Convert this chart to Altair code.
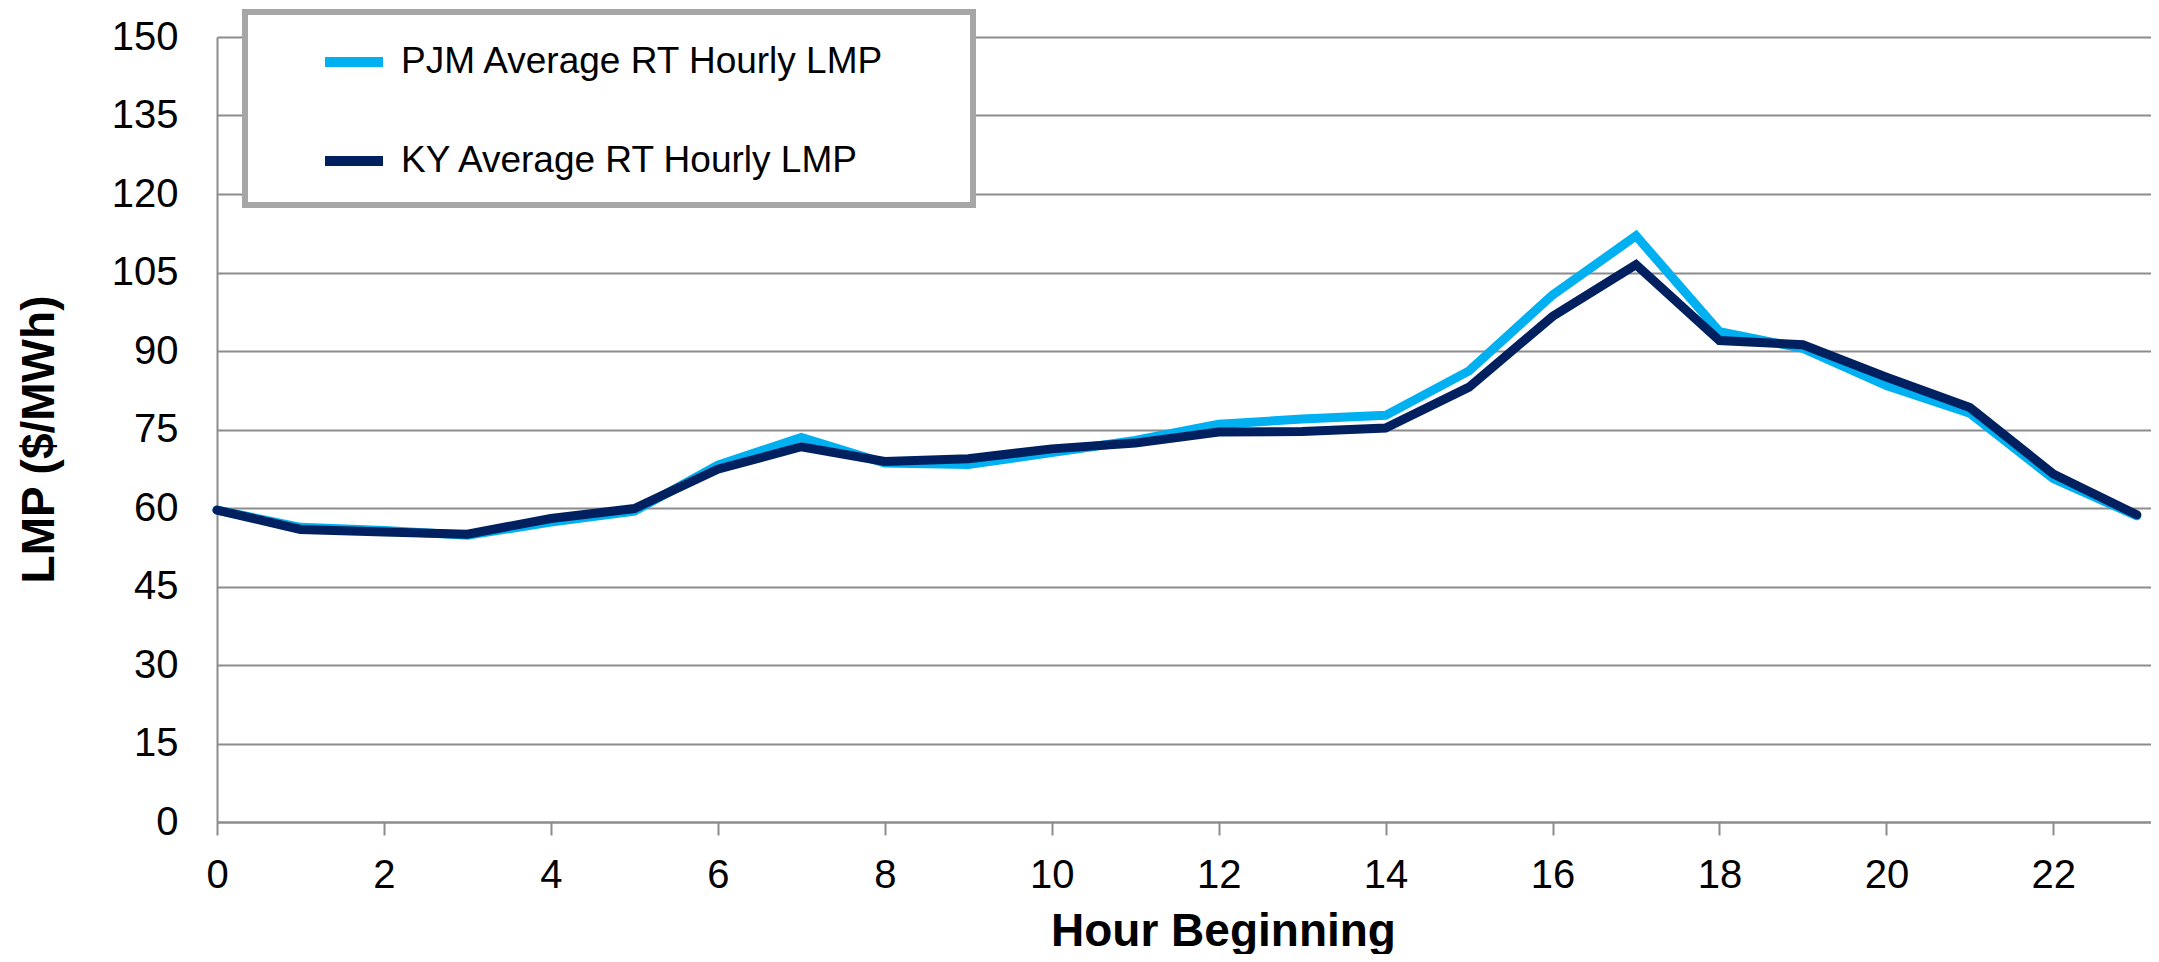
import altair as alt
import pandas as pd

hours = list(range(24))
pjm = [59.6, 56.3, 55.7, 54.8, 57.3, 59.4, 68.2, 73.5, 68.6, 68.3, 70.6, 72.9,
       76.0, 77.0, 77.7, 86.2, 100.7, 112.0, 93.7, 90.5, 83.4, 78.1, 65.6, 58.5]
ky = [59.6, 55.9, 55.4, 55.0, 58.0, 59.9, 67.4, 71.7, 68.9, 69.4, 71.3, 72.4,
      74.5, 74.6, 75.3, 83.1, 96.6, 106.5, 92.0, 91.2, 85.0, 79.2, 66.5, 58.7]
series_names = ["PJM Average RT Hourly LMP", "KY Average RT Hourly LMP"]
series_colors = ["#00B0F0", "#002060"]
x_ticks = list(range(0, 23, 2))
y_ticks = list(range(0, 151, 15))

rows = []
for h, a, b in zip(hours, pjm, ky):
    rows.append({"hour": h, "series": series_names[0], "lmp": a})
    rows.append({"hour": h, "series": series_names[1], "lmp": b})
df = pd.DataFrame(rows)

FONT = "Liberation Sans, Arial, sans-serif"
GRID = "#8c8c8c"

x_enc = alt.X(
    "hour:Q",
    scale=alt.Scale(domain=[0, 23.17], nice=False, zero=False),
    axis=alt.Axis(
        values=x_ticks, grid=False, title="Hour Beginning",
        labelFontSize=40, labelFont=FONT, labelColor="black",
        labelBaseline="alphabetic", labelPadding=52, labelFlush=False,
        tickSize=13, tickWidth=2, tickColor=GRID,
        domainColor=GRID, domainWidth=2,
        titleFont=FONT, titleFontSize=46, titleFontWeight="bold", titleColor="black",
        titleX=1006, titleY=123, titleBaseline="alphabetic", titleAlign="center",
    ),
)
y_enc = alt.Y(
    "lmp:Q",
    scale=alt.Scale(domain=[0, 150], nice=False),
    axis=alt.Axis(
        values=y_ticks, grid=True, gridColor=GRID, gridWidth=2,
        ticks=False, tickSize=0, labelPadding=39,
        labelFontSize=40, labelFont=FONT, labelColor="black",
        domainColor=GRID, domainWidth=2,
        title="LMP ($/MWh)", titleFont=FONT, titleFontSize=46,
        titleFontWeight="bold", titleColor="black",
        titleAngle=270, titleX=-164, titleY=402,
        titleBaseline="alphabetic", titleAlign="center",
    ),
)
color_enc = alt.Color(
    "series:N",
    scale=alt.Scale(domain=series_names, range=series_colors),
    legend=alt.Legend(
        title=None, orient="none", legendX=103, legendY=-9,
        symbolType="stroke", symbolSize=3364, symbolStrokeWidth=10,
        labelFont=FONT, labelFontSize=37, labelColor="black",
        labelOffset=13, rowPadding=45, padding=0, labelLimit=800,
    ),
)

frame = alt.Chart(pd.DataFrame({"k": [0]})).mark_rect(
    fill="white", stroke="#a6a6a6", strokeWidth=6
).encode(
    x=alt.value(28), x2=alt.value(756), y=alt.value(-25), y2=alt.value(168)
)

base = alt.Chart(df).mark_line(strokeWidth=9, strokeCap="round", strokeJoin="miter").encode(
    x=x_enc, y=y_enc, color=color_enc
)
line_pjm = base.transform_filter(alt.datum.series == series_names[0])
line_ky = base.transform_filter(alt.datum.series == series_names[1])

chart = alt.layer(frame, line_pjm, line_ky).properties(
    width=1934, height=785,
    padding={"left": 209, "top": 29, "right": 0, "bottom": 132},
    autosize=alt.AutoSizeParams(type="none"),
    background="white",
).configure_view(stroke=None)

chart.save("out.html", embed_options={"renderer": "svg", "actions": False})
